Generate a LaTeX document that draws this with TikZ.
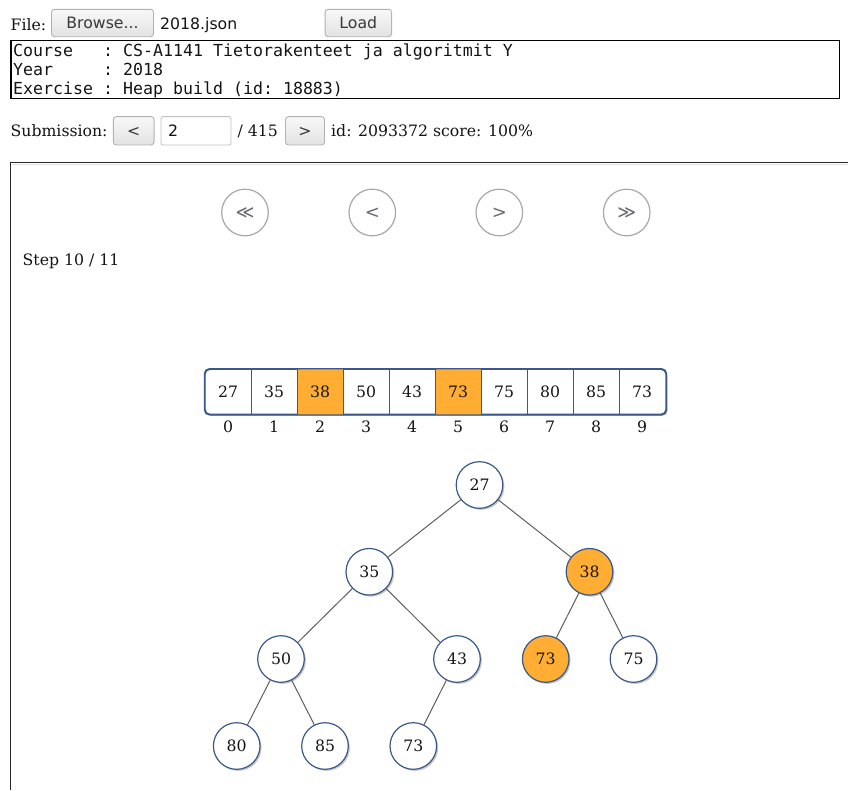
\documentclass[tikz,border=0pt]{standalone}
\usepackage{fontspec}
\setmainfont{DejaVu Serif}
\setsansfont{DejaVu Sans}
\setmonofont{DejaVu Sans Mono}
\usetikzlibrary{shadows}

\definecolor{heaporange}{RGB}{255,174,51}
\definecolor{nodeline}{RGB}{58,88,138}
\definecolor{edgegray}{RGB}{95,95,95}
\definecolor{btnline}{RGB}{178,178,178}
\definecolor{btntop}{RGB}{248,248,248}
\definecolor{btnbottom}{RGB}{226,226,226}
\definecolor{navline}{RGB}{168,168,168}
\definecolor{navtext}{RGB}{105,105,115}
\definecolor{panelline}{RGB}{40,40,40}
\definecolor{txt}{RGB}{20,20,20}

\newcommand\pagesz{\fontsize{15.7pt}{19pt}\selectfont}
\newcommand\monosz{\fontsize{16.6pt}{19pt}\selectfont}

\tikzset{
  plain/.style={inner sep=0pt, text=txt, font=\pagesz},
  btn/.style={draw=btnline, line width=0.9pt, rounded corners=3pt,
    top color=btntop, bottom color=btnbottom, inner sep=0pt,
    text=black!78, font=\sffamily\pagesz, text height=11.4pt, text depth=0pt},
  navbtn/.style={circle, draw=navline, line width=1.2pt, minimum size=46.6pt,
    inner sep=0pt, text=navtext, font=\sffamily\fontsize{18pt}{20pt}\selectfont,
    text height=12.6pt, text depth=0pt},
  cellbox/.style={minimum width=46pt, minimum height=45pt, inner sep=0pt,
    font=\pagesz, text=txt, text height=11.4pt, text depth=0pt},
  idxlabel/.style={inner sep=0pt, anchor=base, font=\pagesz, text=txt},
  heapnode/.style={circle, draw=nodeline, line width=1.2pt, fill=white,
    minimum size=46.6pt, inner sep=0pt, font=\pagesz, text=txt,
    text height=11.4pt, text depth=0pt,
    drop shadow={shadow xshift=1.6pt, shadow yshift=-1.6pt, fill=black, opacity=0.22}},
  marked/.style={fill=heaporange},
  treeedge/.style={draw=edgegray, line width=1pt}
}

\begin{document}
\begin{tikzpicture}[x=1pt, y=-1pt]
\useasboundingbox (0,0) rectangle (848,790);
\fill[white] (0,0) rectangle (848,790);

% ---- file row ----
\node[plain, anchor=base west] (filelbl) at (10.5,30) {File:};
\node[btn, minimum width=102pt, minimum height=27.4pt] (browse) at (102.5,23) {Browse...};
\node[plain, anchor=base west, font=\sffamily\pagesz] (fname) at (160,29.5) {2018.json};
\node[btn, minimum width=66.5pt, minimum height=27.4pt] (load) at (358.3,23) {Load};

% ---- exercise info box ----
\node[draw=black, line width=1.2pt, minimum width=828.5pt, minimum height=58pt,
      inner sep=0pt] (info) at (425.2,69.7) {};
\node[plain, anchor=base west, font=\ttfamily\monosz] (course) at (13,56.5)
  {Course\ \ \ : CS-A1141 Tietorakenteet ja algoritmit Y};
\node[plain, anchor=base west, font=\ttfamily\monosz] (year) at (13,75.5)
  {Year\ \ \ \ \ : 2018};
\node[plain, anchor=base west, font=\ttfamily\monosz] (exercise) at (13,94)
  {Exercise : Heap build (id: 18883)};

% ---- submission row ----
\node[plain, anchor=base west] (sublbl) at (10.5,136) {Submission:};
\node[btn, minimum width=40.7pt, minimum height=28.3pt] (subprev) at (133.7,130.8) {<};
\node[draw=btnline!80, line width=0.9pt, rounded corners=2pt, fill=white,
      minimum width=70pt, minimum height=28.3pt, inner sep=0pt] (subin) at (196,130.8) {};
\node[plain, anchor=base west, font=\sffamily\pagesz] (subval) at (168,136) {2};
\node[plain, anchor=base west] (subtotal) at (237.5,136) {/ 415};
\node[btn, minimum width=39pt, minimum height=28.3pt] (subnext) at (305,130.8) {>};
\node[plain, anchor=base west] (subinfo) at (331,136) {id: 2093372 score: 100\%};

% ---- viewer panel frame ----
\draw[black!12, line width=1pt] (11.5,164) -- (848,164);
\draw[panelline, line width=1.3pt] (10.6,790) -- (10.6,162.6) -- (848,162.6);

% ---- step navigation ----
\node[navbtn] (first) at (245,212.5) {≪};
\node[navbtn] (prev)  at (372.3,212.5) {<};
\node[navbtn] (next)  at (499.3,212.5) {>};
\node[navbtn] (last)  at (626.7,212.5) {≫};
\node[plain, anchor=base west] (step) at (22.5,265) {Step 10 / 11};

% ---- array ----
\node[draw=nodeline, line width=1.2pt, rounded corners=5pt, fill=white,
      minimum width=461pt, minimum height=45pt, inner sep=0pt,
      drop shadow={shadow xshift=1.6pt, shadow yshift=-1.6pt, fill=black, opacity=0.22}]
      (frame) at (435.5,391.8) {};
\foreach \v [count=\i from 0] in {27,35,38,50,43,73,75,80,85,73} {
  \node[cellbox] (c\i) at (228+46*\i,391.8) {\v};
  \node[idxlabel] (i\i) at (228+46*\i,432.7) {\i};
}
\fill[heaporange] (c2.north west) rectangle (c2.south east);
\fill[heaporange] (c5.north west) rectangle (c5.south east);
\node[cellbox] at (c2) {38};
\node[cellbox] at (c5) {73};
\foreach \i in {0,...,8} {
  \draw[nodeline, line width=1pt] (c\i.north east) -- (c\i.south east);
}
\draw[nodeline, line width=1.2pt, rounded corners=5pt]
  (frame.north west) rectangle (frame.south east);

% ---- heap tree ----
\node[heapnode] (n0) at (479.5,485) {27};
\node[heapnode] (n1) at (369.3,571.8) {35};
\node[heapnode, marked] (n2) at (589.5,571.8) {38};
\node[heapnode] (n3) at (281,659) {50};
\node[heapnode] (n4) at (457,659) {43};
\node[heapnode, marked] (n5) at (545.7,659) {73};
\node[heapnode] (n6) at (633.5,659) {75};
\node[heapnode] (n7) at (236.7,746) {80};
\node[heapnode] (n8) at (325,746) {85};
\node[heapnode] (n9) at (413.3,746) {73};

\draw[treeedge] (n0) -- (n1);
\draw[treeedge] (n0) -- (n2);
\draw[treeedge] (n1) -- (n3);
\draw[treeedge] (n1) -- (n4);
\draw[treeedge] (n2) -- (n5);
\draw[treeedge] (n2) -- (n6);
\draw[treeedge] (n3) -- (n7);
\draw[treeedge] (n3) -- (n8);
\draw[treeedge] (n4) -- (n9);
\end{tikzpicture}
\end{document}
